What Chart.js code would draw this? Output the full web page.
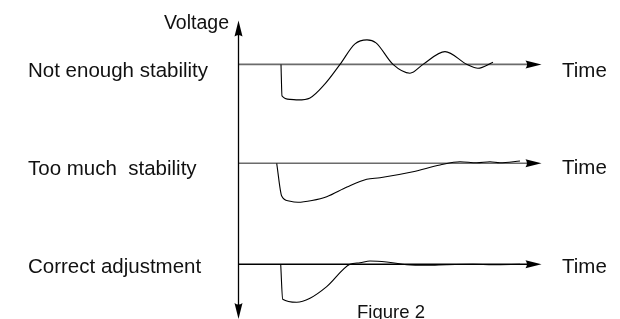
<!DOCTYPE html>
<html>
<head>
<meta charset="utf-8">
<script src="https://cdn.jsdelivr.net/npm/chart.js@4.4.1/dist/chart.umd.min.js"></script>
<style>
  html, body { margin: 0; padding: 0; background: #fff; }
  #wrap { position: relative; width: 620px; height: 319px; }
</style>
</head>
<body>
<div id="wrap"><canvas id="fig"></canvas></div>
<script>
// row labels (left side) and axis titles
const rowLabels = ["Not enough stability", "Too much  stability", "Correct adjustment"];
const axisTitleY = "Voltage";
const axisTitleX = "Time";
const caption = "Figure 2";

// response curves: time (arbitrary units from the voltage axis), voltage (relative to set point)
const notEnoughT = [4.25, 4.35, 5.15, 5.95, 7.15, 8.65, 10.15, 11.65, 12.85, 13.75, 15.45, 17.15, 18.45, 20.65, 22.85, 23.95, 25.45];
const notEnoughV = [0, -3.15, -3.5, -3.55, -3.35, -1.95, 0, 2.05, 2.45, 2.15, 0, -0.88, 0, 1.28, 0, -0.38, 0.22];

const tooMuchT = [3.82, 4.32, 5.05, 5.95, 7.35, 8.82, 10.85, 12.82, 14.15, 17.45, 20.15, 22.15, 23.82, 25.15, 26.15, 28.15];
const tooMuchV = [0, -3.27, -3.77, -3.9, -3.72, -3.34, -2.37, -1.6, -1.44, -0.84, -0.17, 0.16, 0.06, 0.16, 0.06, 0.23];

const correctT = [4.22, 4.42, 5.82, 7.15, 8.82, 11.15, 12.15, 13.15, 14.82, 16.82, 18.82, 20.82, 23.45, 25.45, 28.15];
const correctV = [0, -3.5, -3.8, -3.4, -2.24, 0, 0.16, 0.33, 0.23, -0.04, -0.1, -0.04, 0, -0.04, 0];

// axis extents (same units as above)
const timeAxisEnd = 30.3;
const voltAxisTop = 4.4;     // on row 1 scale
const voltAxisBottom = -5.47; // on row 3 scale

const toPoints = (t, v) => t.map((x, i) => ({ x: x, y: v[i] }));

const FONT = '"Liberation Sans", Arial, sans-serif';

function arrowHead(ctx, x, y, dir) {
    // slightly swept triangle, like the drawing
    const len = 16, half = 4;
    ctx.beginPath();
    if (dir === "right") {
        ctx.moveTo(x, y);
        ctx.lineTo(x - len, y - half);
        ctx.quadraticCurveTo(x - len + 3, y, x - len, y + half);
    } else if (dir === "up") {
        ctx.moveTo(x, y);
        ctx.lineTo(x - half, y + len);
        ctx.quadraticCurveTo(x, y + len - 3, x + half, y + len);
    } else {
        ctx.moveTo(x, y);
        ctx.lineTo(x - half, y - len);
        ctx.quadraticCurveTo(x, y - len + 3, x + half, y - len);
    }
    ctx.closePath();
    ctx.fill();
}

const axesPlugin = {
    id: "axesPlugin",
    beforeDatasetsDraw(chart) {
        const ctx = chart.ctx;
        const xs = chart.scales.x;
        const rows = [chart.scales.y1, chart.scales.y2, chart.scales.y3];
        const x0 = xs.getPixelForValue(0);
        const xEnd = xs.getPixelForValue(timeAxisEnd);
        ctx.save();
        // horizontal time axes
        const lineColors = ["#6b6b6b", "#6b6b6b", "#000"];
        rows.forEach((s, i) => {
            const y = s.getPixelForValue(0);
            ctx.strokeStyle = lineColors[i];
            ctx.lineWidth = 1.6;
            ctx.beginPath();
            ctx.moveTo(x0, y);
            ctx.lineTo(xEnd - 14, y);
            ctx.stroke();
            ctx.fillStyle = "#000";
            arrowHead(ctx, xEnd, y, "right");
        });
        // vertical voltage axis
        const yTop = rows[0].getPixelForValue(voltAxisTop);
        const yBot = rows[2].getPixelForValue(voltAxisBottom);
        ctx.strokeStyle = "#000";
        ctx.lineWidth = 1.3;
        ctx.beginPath();
        ctx.moveTo(x0, yTop + 12);
        ctx.lineTo(x0, yBot - 12);
        ctx.stroke();
        arrowHead(ctx, x0, yTop, "up");
        arrowHead(ctx, x0, yBot, "down");
        ctx.restore();
    },
    afterDraw(chart) {
        const ctx = chart.ctx;
        const rows = [chart.scales.y1, chart.scales.y2, chart.scales.y3];
        const labelOffset = [12.8, 11.7, 9];
        ctx.save();
        ctx.fillStyle = "#111";
        ctx.textBaseline = "alphabetic";
        ctx.font = "20.5px " + FONT;
        rows.forEach((s, i) => {
            const y = s.getPixelForValue(0) + labelOffset[i];
            ctx.textAlign = "left";
            ctx.fillText(rowLabels[i], 28, y);
            ctx.fillText(axisTitleX, 562, y - 0.6);
        });
        ctx.font = "19.5px " + FONT;
        ctx.textAlign = "right";
        ctx.fillText(axisTitleY, 229, 28.5);
        ctx.font = "18.5px " + FONT;
        ctx.textAlign = "center";
        ctx.fillText(caption, 391, 318);
        ctx.restore();
    }
};

const lineStyle = {
    borderColor: "#000",
    borderWidth: 1.1,
    pointRadius: 0,
    fill: false,
    cubicInterpolationMode: "monotone"
};

new Chart(document.getElementById("fig"), {
    type: "line",
    data: {
        datasets: [
            Object.assign({ label: rowLabels[0], data: toPoints(notEnoughT, notEnoughV), yAxisID: "y1" }, lineStyle),
            Object.assign({ label: rowLabels[1], data: toPoints(tooMuchT, tooMuchV), yAxisID: "y2" }, lineStyle),
            Object.assign({ label: rowLabels[2], data: toPoints(correctT, correctV), yAxisID: "y3" }, lineStyle)
        ]
    },
    options: {
        responsive: true,
        maintainAspectRatio: false,
        animation: false,
        layout: { padding: 0 },
        plugins: { legend: { display: false }, tooltip: { enabled: false } },
        scales: {
            x: { type: "linear", min: -23.85, max: 38.15, display: false },
            y1: { type: "linear", min: -25.46, max: 6.44, display: false },
            y2: { type: "linear", min: -15.57, max: 16.33, display: false },
            y3: { type: "linear", min: -5.47, max: 26.43, display: false }
        }
    },
    plugins: [axesPlugin]
});
</script>
</body>
</html>
